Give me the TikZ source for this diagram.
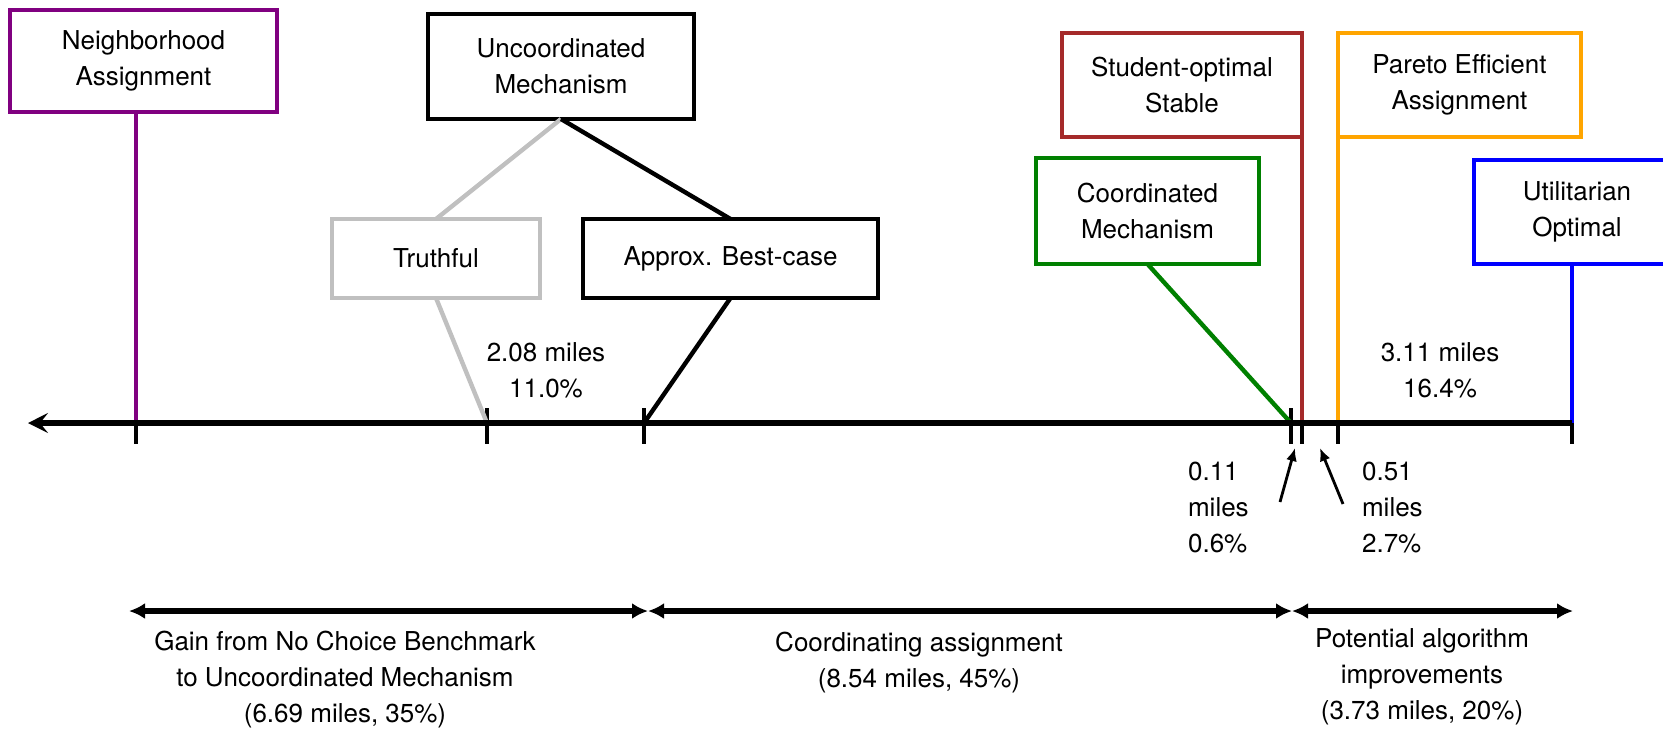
\documentclass[tikz,border=0pt]{standalone}
\usepackage{fontspec}
\setmainfont{TeX Gyre Heros}
\usetikzlibrary{arrows.meta}

\definecolor{nbpurple}{RGB}{128,0,128}
\definecolor{ststable}{RGB}{165,42,42}
\definecolor{peorange}{RGB}{255,165,0}
\definecolor{cmgreen}{RGB}{0,128,0}
\definecolor{utblue}{RGB}{0,0,255}
\definecolor{trgrey}{RGB}{192,192,192}

\tikzset{>=latex,
  mech/.style={draw, line width=2.4pt, align=center, inner sep=0pt, outer sep=0pt},
  link/.style={line width=2.2pt},
  axtick/.style={line width=2.4pt},
  gainspan/.style={line width=2.7pt, {Latex[length=8pt,width=8pt]}-{Latex[length=8pt,width=8pt]}},
  smallarrow/.style={line width=1.4pt, -{Latex[length=6.5pt,width=5.5pt]}}
}

\begin{document}
\begin{tikzpicture}[x=0.5pt, y=-0.5pt, font=\fontsize{13}{18}\selectfont]

\useasboundingbox (0,0) rectangle (1663,736);
\clip (0,0) rectangle (1663,736);

% mechanisms
\node[mech, nbpurple, text=black, minimum width=133.5pt, minimum height=51pt] (neigh) at (143.5,61) {Neighborhood\\Assignment};
\node[mech, minimum width=133pt, minimum height=52.5pt] (uncoord) at (561,66.5) {Uncoordinated\\Mechanism};
\node[mech, trgrey, text=black, minimum width=104pt, minimum height=39.5pt] (truthful) at (436,258.5) {Truthful};
\node[mech, minimum width=147.5pt, minimum height=39.5pt] (approx) at (730.5,258.5) {Approx. Best-case};
\node[mech, ststable, text=black, minimum width=120pt, minimum height=52pt] (stable) at (1182,85) {Student-optimal\\Stable};
\node[mech, peorange, text=black, minimum width=121.5pt, minimum height=52pt] (pareto) at (1459.5,85) {Pareto Efficient\\Assignment};
\node[mech, cmgreen, text=black, minimum width=111.5pt, minimum height=53pt] (coord) at (1147.5,211) {Coordinated\\Mechanism};
\node[mech, utblue, text=black, minimum width=103pt, minimum height=52pt] (util) at (1577,212) {Utilitarian\\Optimal};

% points on the axis
\coordinate (tip) at (28,423);
\coordinate (nb) at (136,423);
\coordinate (tr) at (487,423);
\coordinate (ap) at (644,423);
\coordinate (co) at (1291,423);
\coordinate (st) at (1302,423);
\coordinate (pa) at (1338,423);
\coordinate (ut) at (1572,423);

\foreach \t in {nb,tr,ap,co,st,pa,ut}
  \draw[axtick] (\t) ++(0,-15) -- ++(0,36);

\draw[link, nbpurple] (neigh.south -| nb) -- (nb);
\draw[link, trgrey] (uncoord.south) -- (truthful.north);
\draw[link] (uncoord.south) -- (approx.north);
\draw[link, trgrey] (truthful.south) -- (tr);
\draw[link] (approx.south) -- (ap);
\draw[link, cmgreen] (coord.south) -- (co);
\draw[link, ststable] (stable.south east) -- (st);
\draw[link, peorange] (pareto.south west) -- (pa);
\draw[link, utblue] (util.south -| ut) -- (ut);

\draw[line width=2.7pt, {Stealth[length=10pt,width=10pt,inset=4pt]}-] (tip) -- (ut);

\node[align=center] (gapa) at (546,370) {2.08 miles\\11.0\%};
\node[align=center] (gapb) at (1440,370) {3.11 miles\\16.4\%};

\node[align=left, anchor=west] (gapc) at (1181,508) {0.11\\miles\\0.6\%};
\node[align=left, anchor=west] (gapd) at (1355,508) {0.51\\miles\\2.7\%};
\coordinate (ca) at (1280,502);
\coordinate (cb) at (1295,448);
\coordinate (da) at (1343,504);
\coordinate (db) at (1320,448);
\draw[smallarrow] (ca) -- (cb);
\draw[smallarrow] (da) -- (db);

% gains
\coordinate (g0) at (129,611);
\coordinate (g1) at (648,611);
\coordinate (g2) at (1292,611);
\coordinate (g3) at (1573,611);
\draw[gainspan] (g0) -- (g1);
\draw[gainspan] (g1) -- (g2);
\draw[gainspan] (g2) -- (g3);

\node[align=center] (gain) at (345,680) {Gain from No Choice Benchmark\\to Uncoordinated Mechanism\\(6.69 miles, 35\%)};
\node[align=center] (coordgain) at (919,663) {Coordinating assignment\\(8.54 miles, 45\%)};
\node[align=center] (algogain) at (1422,677) {Potential algorithm\\improvements\\(3.73 miles, 20\%)};

\end{tikzpicture}
\end{document}
